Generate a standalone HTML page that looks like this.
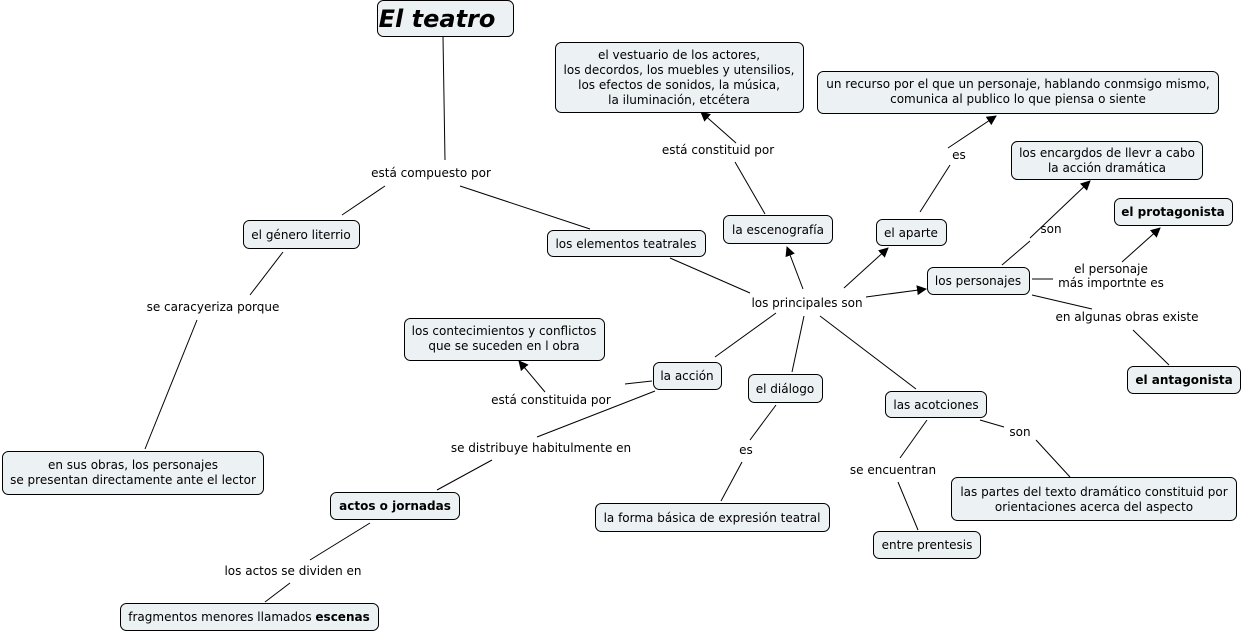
<!DOCTYPE html>
<html><head><meta charset="utf-8"><style>
body{margin:0;background:#fff;}
svg{display:block;font-family:"DejaVu Sans","Liberation Sans",sans-serif;font-size:12px;}
.n{fill:#ecf1f3;stroke:#000;stroke-width:1}
line{stroke:#000;stroke-width:1}
text{fill:#000;text-anchor:middle}
.b{font-weight:bold}
</style></head><body>
<svg width="1242" height="633" viewBox="0 0 1242 633">
<defs><marker id="a" markerWidth="10" markerHeight="10" refX="9" refY="5" orient="auto" markerUnits="userSpaceOnUse"><path d="M0,0 L10,5 L0,10z" fill="#000"/></marker></defs>
<g>
<line x1="443" y1="37" x2="445" y2="160"/>
<line x1="385" y1="186" x2="342" y2="215"/>
<line x1="460" y1="186" x2="590" y2="229"/>
<line x1="283" y1="252" x2="250" y2="295"/>
<line x1="197" y1="320" x2="145" y2="449"/>
<line x1="736" y1="143" x2="701" y2="112" marker-end="url(#a)"/>
<line x1="765" y1="214" x2="735" y2="162"/>
<line x1="948" y1="148" x2="996" y2="116" marker-end="url(#a)"/>
<line x1="920" y1="212" x2="950" y2="165"/>
<line x1="1030" y1="238" x2="1090" y2="181" marker-end="url(#a)"/>
<line x1="1002" y1="265" x2="1030" y2="241"/>
<line x1="1122" y1="262" x2="1160" y2="228" marker-end="url(#a)"/>
<line x1="1032" y1="279" x2="1053" y2="279"/>
<line x1="1032" y1="295" x2="1092" y2="309"/>
<line x1="1133" y1="330" x2="1169" y2="365"/>
<line x1="670" y1="258" x2="750" y2="293"/>
<line x1="866" y1="297" x2="926" y2="289" marker-end="url(#a)"/>
<line x1="844" y1="288" x2="888" y2="248" marker-end="url(#a)"/>
<line x1="803" y1="289" x2="787" y2="247" marker-end="url(#a)"/>
<line x1="776" y1="313" x2="715" y2="357"/>
<line x1="804" y1="316" x2="792" y2="372"/>
<line x1="820" y1="316" x2="916" y2="389"/>
<line x1="625" y1="384" x2="652" y2="381"/>
<line x1="545" y1="392" x2="519" y2="361" marker-end="url(#a)"/>
<line x1="655" y1="391" x2="537" y2="437"/>
<line x1="492" y1="460" x2="437" y2="490"/>
<line x1="776" y1="405" x2="750" y2="440"/>
<line x1="742" y1="462" x2="721" y2="501"/>
<line x1="980" y1="420" x2="1004" y2="427"/>
<line x1="1036" y1="440" x2="1070" y2="477"/>
<line x1="927" y1="420" x2="900" y2="458"/>
<line x1="898" y1="482" x2="918" y2="530"/>
<line x1="370" y1="523" x2="310" y2="560"/>
<line x1="290" y1="583" x2="265" y2="602"/>
</g>
<g>
<rect class="n" x="377.5" y="0.5" width="136" height="36" rx="6"/>
<text x="437" y="27" style="font-size:24px;font-weight:bold;font-style:italic">El teatro</text>
<rect class="n" x="555.5" y="42.5" width="248" height="70" rx="6"/>
<text x="679" y="59">el vestuario de los actores,</text>
<text x="679" y="74">los decordos, los muebles y utensilios,</text>
<text x="679" y="89">los efectos de sonidos, la música,</text>
<text x="679" y="104">la iluminación, etcétera</text>
<rect class="n" x="817.5" y="71.5" width="401" height="42" rx="6"/>
<text x="1018" y="88">un recurso por el que un personaje, hablando conmsigo mismo,</text>
<text x="1018" y="103">comunica al publico lo que piensa o siente</text>
<rect class="n" x="1011.5" y="141.5" width="191" height="38" rx="6"/>
<text x="1107" y="157">los encargdos de llevr a cabo</text>
<text x="1107" y="172">la acción dramática</text>
<rect class="n" x="1114.5" y="198.5" width="118" height="27" rx="6"/>
<text x="1173" y="216" class="b">el protagonista</text>
<rect class="n" x="243.5" y="220.5" width="116" height="28" rx="6"/>
<text x="301" y="239">el género literrio</text>
<rect class="n" x="547.5" y="230.5" width="158" height="26" rx="6"/>
<text x="626" y="248">los elementos teatrales</text>
<rect class="n" x="723.5" y="215.5" width="109" height="28" rx="6"/>
<text x="778" y="234">la escenografía</text>
<rect class="n" x="876.5" y="219.5" width="70" height="26" rx="6"/>
<text x="911" y="237">el aparte</text>
<rect class="n" x="927.5" y="267.5" width="102" height="27" rx="6"/>
<text x="978" y="285">los personajes</text>
<rect class="n" x="1127.5" y="366.5" width="113" height="27" rx="6"/>
<text x="1184" y="384" class="b">el antagonista</text>
<rect class="n" x="404.5" y="318.5" width="200" height="42" rx="6"/>
<text x="504" y="335">los contecimientos y conflictos</text>
<text x="504" y="350">que se suceden en l obra</text>
<rect class="n" x="653.5" y="362.5" width="68" height="27" rx="6"/>
<text x="687" y="380">la acción</text>
<rect class="n" x="748.5" y="374.5" width="74" height="28" rx="6"/>
<text x="785" y="393">el diálogo</text>
<rect class="n" x="885.5" y="391.5" width="101" height="26" rx="6"/>
<text x="936" y="409">las acotciones</text>
<rect class="n" x="2.5" y="451.5" width="261" height="43" rx="6"/>
<text x="133" y="469">en sus obras, los personajes</text>
<text x="133" y="484">se presentan directamente ante el lector</text>
<rect class="n" x="330.5" y="492.5" width="129" height="27" rx="6"/>
<text x="395" y="510" class="b">actos o jornadas</text>
<rect class="n" x="595.5" y="503.5" width="234" height="28" rx="6"/>
<text x="712" y="522">la forma básica de expresión teatral</text>
<rect class="n" x="951.5" y="477.5" width="285" height="43" rx="6"/>
<text x="1094" y="496">las partes del texto dramático constituid por</text>
<text x="1094" y="511">orientaciones acerca del aspecto</text>
<rect class="n" x="873.5" y="531.5" width="107" height="27" rx="6"/>
<text x="927" y="549">entre prentesis</text>
<rect class="n" x="120.5" y="603.5" width="258" height="27" rx="6"/>
<text x="249" y="621">fragmentos menores llamados <tspan class="b">escenas</tspan></text>
</g>
<g>
<text x="431" y="177">está compuesto por</text>
<text x="213" y="311">se caracyeriza porque</text>
<text x="718" y="154">está constituid por</text>
<text x="959" y="159">es</text>
<text x="1051" y="233">son</text>
<text x="1111" y="273">el personaje</text>
<text x="1111" y="287">más importnte es</text>
<text x="1127" y="321">en algunas obras existe</text>
<text x="807" y="307">los principales son</text>
<text x="551" y="404">está constituida por</text>
<text x="541" y="452">se distribuye habitulmente en</text>
<text x="746" y="454">es</text>
<text x="1020" y="436">son</text>
<text x="893" y="474">se encuentran</text>
<text x="293" y="575">los actos se dividen en</text>
</g>
</svg>
</body></html>
